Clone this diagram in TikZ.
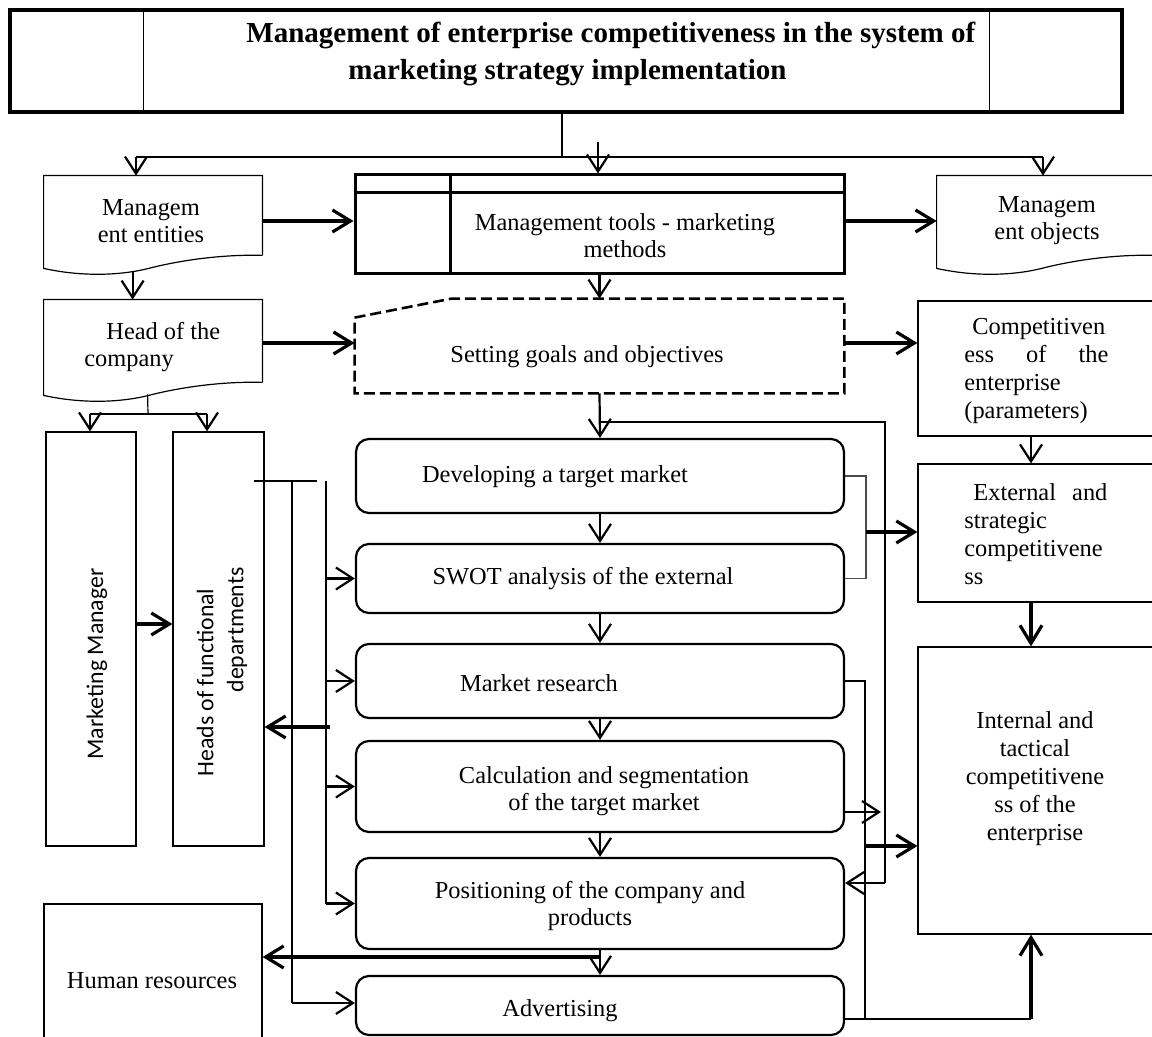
\documentclass[tikz,border=0pt]{standalone}
\usepackage{fontspec}
\setmainfont{Liberation Serif}
\newfontfamily\sansf{Carlito}
\usetikzlibrary{arrows.meta,calc}

\newcommand\fBody{\fontsize{12.2pt}{13.6pt}\selectfont}
\newcommand\fTitle{\bfseries\fontsize{14.5pt}{18.5pt}\selectfont}
\newcommand\fRight{\fontsize{12.2pt}{14pt}\selectfont}
\newcommand\fRot{\sansf\fontsize{11.9pt}{15pt}\selectfont}

% document shape: flat top, wavy bottom edge
\newcommand\docoutline[1]{%
  \draw[line width=0.6pt]
    (#1.south east) -- (#1.north east) -- (#1.north west)
    -- ($(#1.south west)+(0,13)$)
    .. controls ($(#1.south west)+(36,21)$) and ($(#1.south west)+(76,21)$) ..
    ($(#1.south west)+(109,12)$)
    .. controls ($(#1.south west)+(146,3)$) and ($(#1.south west)+(186,-1)$) ..
    (#1.south east);}

\begin{document}
\begin{tikzpicture}[x=0.5pt,y=-0.5pt,
  frame/.style={draw, line width=0.6pt, inner sep=0pt, rectangle},
  ghost/.style={inner sep=0pt, rectangle},
  rbox/.style={draw, line width=1.1pt, rounded corners=6.5pt, inner sep=0pt, rectangle},
  lbl/.style={inner sep=0pt, font=\fBody, align=center},
  conn/.style={line width=0.6pt},
  arr/.style={line width=1.1pt, -{Straight Barb[length=8.5pt,width=11pt]}},
  bigarr/.style={line width=1.6pt, -{Straight Barb[length=9pt,width=11pt]}},
]
\useasboundingbox (0,0) rectangle (1152,1037);

% ---------- title block ----------
\node[frame, line width=1.6pt, minimum width=556pt, minimum height=51pt] (top) at (566,61) {};
\draw[conn] ($(top.north west)+(135,0)$) -- ($(top.south west)+(135,0)$);
\draw[conn] ($(top.north east)+(-134,0)$) -- ($(top.south east)+(-134,0)$);
\node[inner sep=0pt, font=\fTitle, align=left, anchor=west] (top-t) at (246,54)
  {Management of enterprise competitiveness in the system of\\
   \hspace*{51pt}marketing strategy implementation};

% ---------- second row ----------
\node[ghost, minimum width=109pt, minimum height=39.5pt] (ent) at (153,215.5) {};
\docoutline{ent}
\node[lbl] (ent-t) at (151,221) {Managem\\ent entities};

\node[frame, line width=1.5pt, minimum width=244.5pt, minimum height=49.5pt] (tools) at (599.5,224.5) {};
\draw[line width=1.5pt] ($(tools.north west)+(0,19)$) -- ($(tools.north east)+(0,19)$);
\draw[line width=1.5pt] ($(tools.north west)+(97,0)$) -- ($(tools.south west)+(97,0)$);
\node[lbl] (tools-t) at (625,236) {Management tools - marketing\\methods};

\node[ghost, minimum width=109pt, minimum height=39.5pt] (obj) at (1046,215.5) {};
\docoutline{obj}
\node[lbl] (obj-t) at (1047,221) {Managem\\ent objects};

% ---------- third row ----------
\node[ghost, minimum width=109pt, minimum height=41pt] (head) at (153,341) {};
\docoutline{head}
\node[lbl, align=left, anchor=west] (head-t) at (84,347) {\hspace*{11pt}Head of the\\company};

\node[ghost, minimum width=244.5pt, minimum height=47pt] (set) at (599.5,346) {};
\draw[line width=1.3pt, dash pattern=on 5.5pt off 2.5pt]
  ($(set.north west)+(0,19)$) -- ($(set.north west)+(97,0)$) -- (set.north east)
  -- (set.south east) -- (set.south west) -- cycle;
\node[lbl] (set-t) at (587,357) {Setting goals and objectives};

\node[frame, minimum width=121pt, minimum height=67.5pt] (comp) at (1039,368.5) {};
\node[inner sep=0pt, font=\fRight, align=left, anchor=west] (comp-t) at (964,371)
  {\hspace*{4pt}Competitiven\\\makebox[72pt][s]{ess of the}\\enterprise\\(parameters)};

% ---------- staff column ----------
\node[frame, minimum width=45pt, minimum height=207pt] (mm) at (91,639) {};
\node[inner sep=0pt, font=\fRot, rotate=90] (mm-t) at (97,664) {Marketing Manager};
\node[frame, minimum width=45.5pt, minimum height=207pt] (heads) at (218.5,639) {};
\node[inner sep=0pt, font=\fRot, rotate=90, align=left] (heads-t) at (222,672)
  {Heads of functional\\\hspace*{42pt}departments};
\node[frame, minimum width=109pt, minimum height=73pt] (hr) at (153,977) {};
\node[lbl] (hr-t) at (152,981) {Human resources};

% ---------- process steps ----------
\node[rbox, minimum width=244pt, minimum height=37pt]   (dev)  at (600,476)    {};
\node[rbox, minimum width=244pt, minimum height=34.5pt] (swot) at (600,578.5)  {};
\node[rbox, minimum width=244pt, minimum height=37pt]   (mr)   at (600,681)    {};
\node[rbox, minimum width=244pt, minimum height=45.5pt] (calc) at (600,786.5)  {};
\node[rbox, minimum width=244pt, minimum height=45.5pt] (pos)  at (600,903.5)  {};
\node[rbox, minimum width=244pt, minimum height=29.5pt] (adv)  at (600,1005.5) {};
\node[lbl] (dev-t)  at (555,477)  {Developing a target market};
\node[lbl] (swot-t) at (583,579)  {SWOT analysis of the external};
\node[lbl] (mr-t)   at (539,683)  {Market research};
\node[lbl] (calc-t) at (604,791)  {Calculation and segmentation\\of the target market};
\node[lbl] (pos-t)  at (590,906)  {Positioning of the company and\\products};
\node[lbl] (adv-t)  at (560,1011) {Advertising};

% ---------- competitiveness column ----------
\node[frame, minimum width=121pt, minimum height=69pt] (ext) at (1039,533) {};
\node[inner sep=0pt, font=\fRight, align=left, anchor=west] (ext-t) at (964,534)
  {\makebox[71.5pt][s]{\hspace*{4.5pt}External and}\\strategic\\competitivene\\ss};
\node[frame, minimum width=121pt, minimum height=143.5pt] (int) at (1039,790.5) {};
\node[inner sep=0pt, font=\fRight, align=center] (int-t) at (1035,779)
  {Internal and\\tactical\\competitivene\\ss of the\\enterprise};

% ---------- helper coordinates ----------
\coordinate (jt) at (562,157);
\coordinate (jl) at (136,157);
\coordinate (jr) at (1043,157);
\coordinate (cin) at (598,142);
\coordinate (y221) at (0,221);
\coordinate (y343) at (0,343);
\coordinate (lp) at (885,422);
\coordinate (y883) at (0,883);
\coordinate (b1) at (866,532);
\coordinate (b2) at (865,846);
\coordinate (y812) at (0,812);
\coordinate (c812) at (881,812);
\coordinate (y1019) at (0,1019);
\coordinate (x1031) at (1031,0);
\coordinate (h1) at (254,481);
\coordinate (h2) at (317,481);
\coordinate (x292) at (292,0);
\coordinate (x326) at (326,0);
\coordinate (y1003) at (0,1003);
\coordinate (y727) at (0,727);
\coordinate (c727) at (330,727);
\coordinate (y957) at (0,957);
\coordinate (y624) at (0,624);
\coordinate (hb) at (148,414);
\coordinate (hbl) at (90,414);
\coordinate (hbr) at (207,414);
\coordinate (x207) at (207,0);

% ---------- connectors: top ----------
\draw[conn, line width=0.9pt] (top.south -| jt) -- (jt);
\draw[conn, line width=0.9pt] (jl) -- (jr);
\draw[arr] (jl) -- (jl |- ent.north);
\draw[arr] (jr) -- (jr |- obj.north);
\draw[arr] (cin) -- (cin |- tools.north);

\draw[bigarr] (ent.east |- y221) -- (tools.west |- y221);
\draw[bigarr] (tools.east |- y221) -- (obj.west |- y221);
\draw[arr] ($(ent.south west)+(89,17)$) -- ($(head.north west)+(89,0)$);
\draw[bigarr] (head.east |- y343) -- (set.west |- y343);
\draw[bigarr] (set.east |- y343) -- (comp.west |- y343);

% head of the company to its two subordinates
\draw[conn] ($(head.south west)+(104,12)$) -- (hb);
\draw[conn] (hbl) -- (hbr);
\draw[arr] (hbl) -- (hbl |- mm.north);
\draw[arr] (hbr) -- (x207 |- heads.north);
\draw[bigarr] (mm.east |- y624) -- (heads.west |- y624);

% ---------- connectors: main chain ----------
\draw[arr] (tools.south) -- (tools.south |- set.north);
\draw[arr] (set.south) -- (dev.north);
\draw[arr] (dev.south) -- (swot.north);
\draw[arr] (swot.south) -- (mr.north);
\draw[arr] (mr.south) -- (calc.north);
\draw[arr] (calc.south) -- (pos.north);
\draw[arr] (pos.south) -- (adv.north);

% feedback loop from the goals to positioning
\draw[conn] (set.south |- lp) -- (lp) -- (lp |- y883);
\draw[arr] (lp |- y883) -- (pos.east |- y883);

% ---------- connectors: right side ----------
\draw[conn, black!70] (dev.east) -| (b1) |- (swot.east);
\draw[bigarr] (b1) -- (b1 -| ext.west);
\draw[conn] (mr.east) -| (b2 |- y1019);
\draw[conn] (adv.east |- y1019) -- (x1031 |- y1019);
\draw[bigarr] (x1031 |- y1019) -- (x1031 |- int.south);
\draw[arr] (calc.east |- y812) -- (c812);
\draw[bigarr] (b2) -- (b2 -| int.west);
\draw[arr] (x1031 |- comp.south) -- (x1031 |- ext.north);
\draw[bigarr] (x1031 |- ext.south) -- (x1031 |- int.north);

% ---------- connectors: left side ----------
\draw[conn] (h1) -- (h2);
\draw[conn] (x292 |- h1) -- (x292 |- y1003);
\draw[arr] (x292 |- y1003) -- (adv.west |- y1003);
\draw[conn] (x326 |- h1) -- (x326 |- pos.west);
\draw[arr] (x326 |- pos.west) -- (pos.west);
\draw[arr] (x326 |- swot.west) -- (swot.west);
\draw[arr] (x326 |- mr.west) -- (mr.west);
\draw[arr] (x326 |- calc.west) -- (calc.west);
\draw[bigarr] (c727) -- (heads.east |- y727);
\draw[bigarr] (pos.south |- y957) -- (hr.east |- y957);

\end{tikzpicture}
\end{document}
